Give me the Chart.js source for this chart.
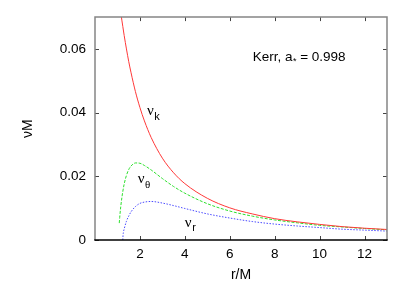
<!DOCTYPE html>
<html>
<head>
<meta charset="utf-8">
<script src="https://cdn.jsdelivr.net/npm/chart.js@4.4.1/dist/chart.umd.min.js"></script>
<style>
  html, body { margin: 0; padding: 0; background: #fff; }
  #wrap { width: 409px; height: 286px; }
</style>
</head>
<body>
<div id="wrap"><canvas id="freq-chart" width="409" height="286"></canvas></div>
<script>
// Kerr a* = 0.998 epicyclic frequencies vs radius

// r/M sample points for each curve
const rKepler = [1.15, 1.2, 1.237, 1.3, 1.4, 1.5, 1.6, 1.8, 2.0, 2.2, 2.5, 3, 3.5, 4, 5, 6, 7, 8, 9, 10, 11, 12, 13];
const nuKepler = [0.0713, 0.0688, 0.0671, 0.0642, 0.0600, 0.0561, 0.0527, 0.0466, 0.0416, 0.0374, 0.0322, 0.0257, 0.0211, 0.0177, 0.0131, 0.0101, 0.0082, 0.0067, 0.0057, 0.0049, 0.0042, 0.0037, 0.0033];

const rTheta = [1.08, 1.1, 1.15, 1.2, 1.237, 1.3, 1.4, 1.5, 1.6, 1.8, 2.0, 2.2, 2.5, 3, 3.5, 4, 5, 6, 7, 8, 9, 10, 11, 12, 13];
const nuTheta = [0.0053, 0.0071, 0.0107, 0.0135, 0.0152, 0.0176, 0.0203, 0.0221, 0.0232, 0.0242, 0.0241, 0.0234, 0.0220, 0.0193, 0.0168, 0.0147, 0.0114, 0.0091, 0.0075, 0.0063, 0.0054, 0.0046, 0.0041, 0.0036, 0.0032];

const rRadial = [1.237, 1.25, 1.27, 1.3, 1.4, 1.5, 1.6, 1.8, 2.0, 2.2, 2.5, 3, 3.5, 4, 5, 6, 7, 8, 9, 10, 11, 12, 13];
const nuRadial = [0, 0.0016, 0.0026, 0.0035, 0.0059, 0.0075, 0.0088, 0.0105, 0.0115, 0.0119, 0.0121, 0.0116, 0.0108, 0.0099, 0.0082, 0.0069, 0.0058, 0.0050, 0.0044, 0.0039, 0.0034, 0.0031, 0.0028];

// axis ticks
const xTicks = [2, 4, 6, 8, 10, 12];
const yTicks = [0, 0.02, 0.04, 0.06];

const SANS = '"Liberation Sans", Arial, sans-serif';
const SERIF = '"Liberation Serif", "Times New Roman", serif';

function toPoints(xs, ys) {
    return xs.map(function(x, i) { return { x: x, y: ys[i] }; });
}

// frame, inward tick marks and the text labels inside the plot
const framePlugin = {
    id: 'frame',
    afterDraw(chart) {
        const ctx = chart.ctx;
        const a = chart.chartArea;
        const xs = chart.scales.x;
        const ys = chart.scales.y;
        ctx.save();

        // tick marks on all four sides
        ctx.strokeStyle = '#444';
        ctx.lineWidth = 1;
        ctx.beginPath();
        xTicks.forEach(function(v) {
            const px = Math.round(xs.getPixelForValue(v)) + 0.5;
            ctx.moveTo(px, a.bottom); ctx.lineTo(px, a.bottom - 4);
            ctx.moveTo(px, a.top); ctx.lineTo(px, a.top + 4);
        });
        yTicks.forEach(function(v) {
            const py = Math.round(ys.getPixelForValue(v)) + 0.5;
            ctx.moveTo(a.left, py); ctx.lineTo(a.left + 4, py);
            ctx.moveTo(a.right, py); ctx.lineTo(a.right - 4, py);
        });
        ctx.stroke();

        // gray box, black bottom line
        ctx.strokeStyle = '#858585';
        ctx.lineWidth = 1.5;
        ctx.beginPath();
        ctx.moveTo(a.left, a.bottom);
        ctx.lineTo(a.left, a.top);
        ctx.lineTo(a.right, a.top);
        ctx.lineTo(a.right, a.bottom);
        ctx.stroke();
        ctx.strokeStyle = '#000';
        ctx.beginPath();
        ctx.moveTo(a.left - 0.75, a.bottom);
        ctx.lineTo(a.right + 0.75, a.bottom);
        ctx.stroke();

        // curve labels: nu with subscript
        ctx.fillStyle = '#000';
        ctx.textBaseline = 'alphabetic';
        function nuLabel(x, y, sub, subFont) {
            let px = xs.getPixelForValue(x);
            const py = ys.getPixelForValue(y);
            ctx.font = '15px ' + SERIF;
            ctx.fillText('\u03bd', px, py);
            px += ctx.measureText('\u03bd').width + 0.5;
            ctx.font = subFont;
            ctx.fillText(sub, px, py + 4.5);
        }
        nuLabel(2.31, 0.0392, 'k', '11px ' + SANS);
        nuLabel(1.9, 0.0178, '\u03b8', '11px ' + SERIF);
        nuLabel(4.0, 0.0041, 'r', '11px ' + SANS);

        // Kerr, a* = 0.998
        let kx = xs.getPixelForValue(7.02);
        const ky = ys.getPixelForValue(0.0562);
        ctx.font = '13.5px ' + SANS;
        ctx.fillText('Kerr, a', kx, ky);
        kx += ctx.measureText('Kerr, a').width + 0.5;
        ctx.font = '9px ' + SANS;
        ctx.fillText('*', kx, ky + 3);
        kx += ctx.measureText('*').width;
        ctx.font = '13.5px ' + SANS;
        ctx.fillText(' = 0.998', kx, ky);

        ctx.restore();
    }
};

function initFrequencyChart() {
    const ctx = document.getElementById('freq-chart');
    if (!ctx) return;

    new Chart(ctx, {
        type: 'scatter',
        data: {
            datasets: [
                {
                    label: 'nu_k',
                    data: toPoints(rKepler, nuKepler),
                    showLine: true,
                    borderColor: '#ff3838',
                    borderWidth: 1,
                    pointRadius: 0,
                    cubicInterpolationMode: 'monotone'
                },
                {
                    label: 'nu_theta',
                    data: toPoints(rTheta, nuTheta),
                    showLine: true,
                    borderColor: '#2ee02e',
                    borderWidth: 1,
                    borderDash: [3, 1.5],
                    pointRadius: 0,
                    cubicInterpolationMode: 'monotone'
                },
                {
                    label: 'nu_r',
                    data: toPoints(rRadial, nuRadial),
                    showLine: true,
                    borderColor: '#4a4aff',
                    borderWidth: 1,
                    borderDash: [1.5, 1.5],
                    pointRadius: 0,
                    cubicInterpolationMode: 'monotone'
                }
            ]
        },
        options: {
            responsive: false,
            animation: false,
            events: [],
            layout: {
                padding: { left: 0, top: 17, right: 22, bottom: 0 }
            },
            scales: {
                x: {
                    type: 'linear',
                    min: 0,
                    max: 13,
                    afterFit: function(scale) { scale.height = 46; },
                    afterBuildTicks: function(scale) {
                        scale.ticks = xTicks.map(function(v) { return { value: v }; });
                    },
                    grid: { display: false, drawTicks: false },
                    border: { display: false },
                    ticks: {
                        padding: 6,
                        color: '#000',
                        font: { family: SANS, size: 13.5 },
                        maxRotation: 0,
                        callback: function(value) { return String(value); }
                    },
                    title: {
                        display: true,
                        text: 'r/M',
                        color: '#000',
                        font: { family: SANS, size: 14 },
                        padding: { top: 0, bottom: 2 }
                    }
                },
                y: {
                    type: 'linear',
                    min: 0,
                    max: 0.07,
                    afterFit: function(scale) { scale.width = 95; },
                    afterBuildTicks: function(scale) {
                        scale.ticks = yTicks.map(function(v) { return { value: v }; });
                    },
                    grid: { display: false, drawTicks: false },
                    border: { display: false },
                    ticks: {
                        padding: 9,
                        color: '#000',
                        font: { family: SANS, size: 13.5 },
                        callback: function(value) { return value === 0 ? '0' : value.toFixed(2); }
                    },
                    title: {
                        display: true,
                        text: '\u03bdM',
                        color: '#000',
                        font: { family: SANS, size: 14 },
                        padding: { top: 20, bottom: 0 }
                    }
                }
            },
            plugins: {
                legend: { display: false },
                tooltip: { enabled: false }
            }
        },
        plugins: [framePlugin]
    });
}

document.addEventListener('DOMContentLoaded', function() {
    initFrequencyChart();
});
</script>
</body>
</html>
